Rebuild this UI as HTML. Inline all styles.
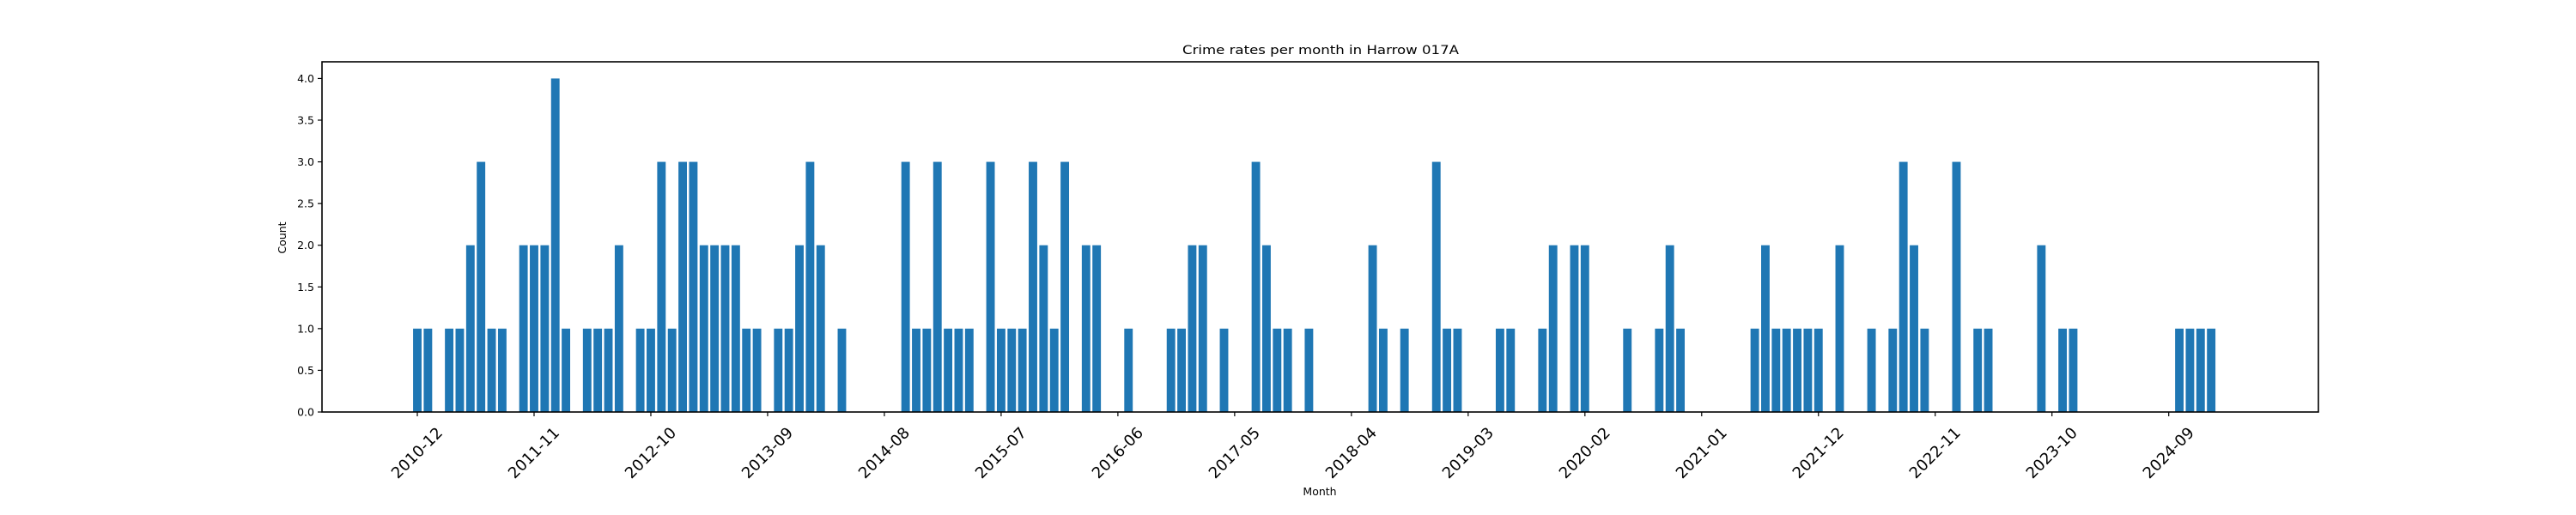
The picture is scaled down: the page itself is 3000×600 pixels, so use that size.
<!DOCTYPE html>
<html><head><meta charset="utf-8"><style>
html,body{margin:0;padding:0;background:#fff;}
svg{display:block;font-family:"DejaVu Sans","Liberation Sans",sans-serif;}
</style></head><body>
<svg id="chart" width="3000" height="600" viewBox="0 0 3000 600" xmlns="http://www.w3.org/2000/svg">
<rect x="0" y="0" width="3000" height="600" fill="#fff"/>
<text x="1538" y="63" font-size="14" text-anchor="middle" textLength="322" lengthAdjust="spacingAndGlyphs" fill="#000">Crime rates per month in Harrow 017A</text>
<g id="bars"></g>
<g id="yaxis"></g>
<g id="xaxis"></g>
<rect x="375" y="72" width="2325" height="408" fill="none" stroke="#000" stroke-width="1.6"/>
<text x="1537" y="577" font-size="12.5" text-anchor="middle" fill="#000">Month</text>
<text x="0" y="0" font-size="12.5" text-anchor="middle" transform="translate(333,277) rotate(-90)" fill="#000">Count</text>
</svg>
<script>
const months = ["2010-12","2011-01","2011-03","2011-04","2011-05","2011-06","2011-07","2011-08","2011-10","2011-11","2011-12","2012-01","2012-02","2012-04","2012-05","2012-06","2012-07","2012-09","2012-10","2012-11","2012-12","2013-01","2013-02","2013-03","2013-04","2013-05","2013-06","2013-07","2013-08","2013-10","2013-11","2013-12","2014-01","2014-02","2014-04","2014-10","2014-11","2014-12","2015-01","2015-02","2015-03","2015-04","2015-06","2015-07","2015-08","2015-09","2015-10","2015-11","2015-12","2016-01","2016-03","2016-04","2016-07","2016-11","2016-12","2017-01","2017-02","2017-04","2017-07","2017-08","2017-09","2017-10","2017-12","2018-06","2018-07","2018-09","2018-12","2019-01","2019-02","2019-06","2019-07","2019-10","2019-11","2020-01","2020-02","2020-06","2020-09","2020-10","2020-11","2021-06","2021-07","2021-08","2021-09","2021-10","2021-11","2021-12","2022-02","2022-05","2022-07","2022-08","2022-09","2022-10","2023-01","2023-03","2023-04","2023-09","2023-11","2023-12","2024-10","2024-11","2024-12","2025-01"];
const counts = [1,1,1,1,2,3,1,1,2,2,2,4,1,1,1,1,2,1,1,3,1,3,3,2,2,2,2,1,1,1,1,2,3,2,1,3,1,1,3,1,1,1,3,1,1,1,3,2,1,3,2,2,1,1,1,2,2,1,3,2,1,1,1,2,1,1,3,1,1,1,1,1,2,2,2,1,1,2,1,1,2,1,1,1,1,1,2,1,1,3,2,1,3,1,1,2,1,1,1,1,1,1];
const tickLabels = ["2010-12","2011-11","2012-10","2013-09","2014-08","2015-07","2016-06","2017-05","2018-04","2019-03","2020-02","2021-01","2021-12","2022-11","2023-10","2024-09"];
const yTicks = [0,0.5,1,1.5,2,2.5,3,3.5,4];

const NS = "http://www.w3.org/2000/svg";
const PL = 375, PR = 2700, PT = 72, PB = 480;
const XMIN = -8.98, XMAX = 179.1, YMAX = 4.2;
function monthIndex(s){ const [y,m] = s.split("-").map(Number); return (y-2010)*12 + (m-12); }
function xScale(s){ return PL + (monthIndex(s)-XMIN)/(XMAX-XMIN)*(PR-PL); }
function yScale(v){ return PB - v/YMAX*(PB-PT); }
const pxPerMonth = (PR-PL)/(XMAX-XMIN);
const bw = pxPerMonth*0.8;

const bars = document.getElementById("bars");
months.forEach((m,i)=>{
  const r = document.createElementNS(NS,"rect");
  r.setAttribute("x", xScale(m)-bw/2);
  r.setAttribute("y", yScale(counts[i]));
  r.setAttribute("width", bw);
  r.setAttribute("height", PB - yScale(counts[i]));
  r.setAttribute("fill", "#1f77b4");
  
  
  bars.appendChild(r);
});

const ya = document.getElementById("yaxis");
yTicks.forEach(v=>{
  const y = yScale(v);
  const l = document.createElementNS(NS,"line");
  l.setAttribute("x1", PL-5); l.setAttribute("x2", PL); l.setAttribute("y1", y); l.setAttribute("y2", y);
  l.setAttribute("stroke","#000"); l.setAttribute("stroke-width","1.2");
  
  
  ya.appendChild(l);
  const t = document.createElementNS(NS,"text");
  t.setAttribute("x", PL-9); t.setAttribute("y", y+4.5);
  t.setAttribute("font-size","12.5"); t.setAttribute("text-anchor","end");
  t.textContent = v.toFixed(1);
  
  
  ya.appendChild(t);
});

const xa = document.getElementById("xaxis");
tickLabels.forEach(s=>{
  const x = xScale(s);
  const l = document.createElementNS(NS,"line");
  l.setAttribute("x1", x); l.setAttribute("x2", x); l.setAttribute("y1", PB); l.setAttribute("y2", PB+5);
  l.setAttribute("stroke","#000"); l.setAttribute("stroke-width","1.2");
  
  
  xa.appendChild(l);
  const t = document.createElementNS(NS,"text");
  t.setAttribute("x", 0); t.setAttribute("y", 0);
  t.setAttribute("font-size","18"); t.setAttribute("text-anchor","middle");
  t.setAttribute("dominant-baseline","central");
  t.setAttribute("transform","translate("+x+",528) rotate(-45)");
  t.textContent = s;
  
  
  xa.appendChild(t);
});
</script>
</body></html>
